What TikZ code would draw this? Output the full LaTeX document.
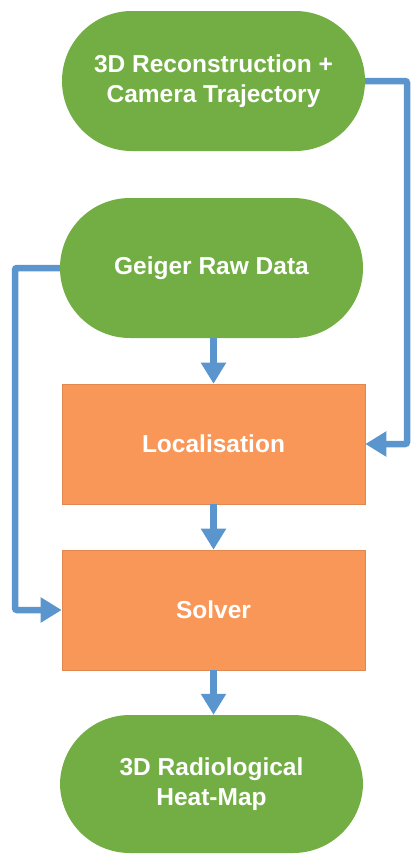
\documentclass[tikz,border=0pt]{standalone}
\usepackage{fontspec}
\setmainfont{Liberation Sans}
\usetikzlibrary{arrows.meta}
\definecolor{pillgreen}{HTML}{72AE44}
\definecolor{boxorange}{HTML}{F99758}
\definecolor{linkblue}{HTML}{5A95CD}
\tikzset{
  pill/.style={rectangle, fill=pillgreen, rounded corners=69.9pt, minimum width=303pt, minimum height=140pt, text=white, font=\fontsize{24.5}{30}\selectfont\bfseries, align=center, inner sep=0pt},
  stepbox/.style={rectangle, fill=boxorange, draw=boxorange!90!black, line width=0.6pt, minimum width=303pt, minimum height=120pt, text=white, font=\fontsize{24.5}{30}\selectfont\bfseries, inner sep=0pt},
  link/.style={draw=linkblue, line width=6.5pt, rounded corners=2pt, -{Triangle[length=21pt,width=24pt]}}
}
\begin{document}
\begin{tikzpicture}[x=1pt,y=-1pt]
\useasboundingbox (0,0) rectangle (412,854);
\node[pill] (top) at (213.5,81) {3D Reconstruction +\\Camera Trajectory};
\node[pill] (geiger) at (211.5,268) {Geiger Raw Data};
\node[stepbox] (loc) at (213.5,444) {Localisation};
\node[stepbox] (solver) at (213.5,610) {Solver};
\node[pill, minimum height=138pt] (heat) at (211.5,784) {3D Radiological\\Heat-Map};
\coordinate (rx) at (407,0);
\coordinate (lx) at (15,0);
\draw[link] (top.east) -- (top.east -| rx) |- (loc.east);
\draw[link] (geiger.west) -- (geiger.west -| lx) |- (solver.west);
\draw[link, rounded corners=0pt] (geiger.south -| loc.north) -- (loc.north);
\draw[link, rounded corners=0pt] (loc.south) -- (solver.north);
\draw[link, rounded corners=0pt] (solver.south) -- (solver.south |- heat.north);
\end{tikzpicture}
\end{document}
